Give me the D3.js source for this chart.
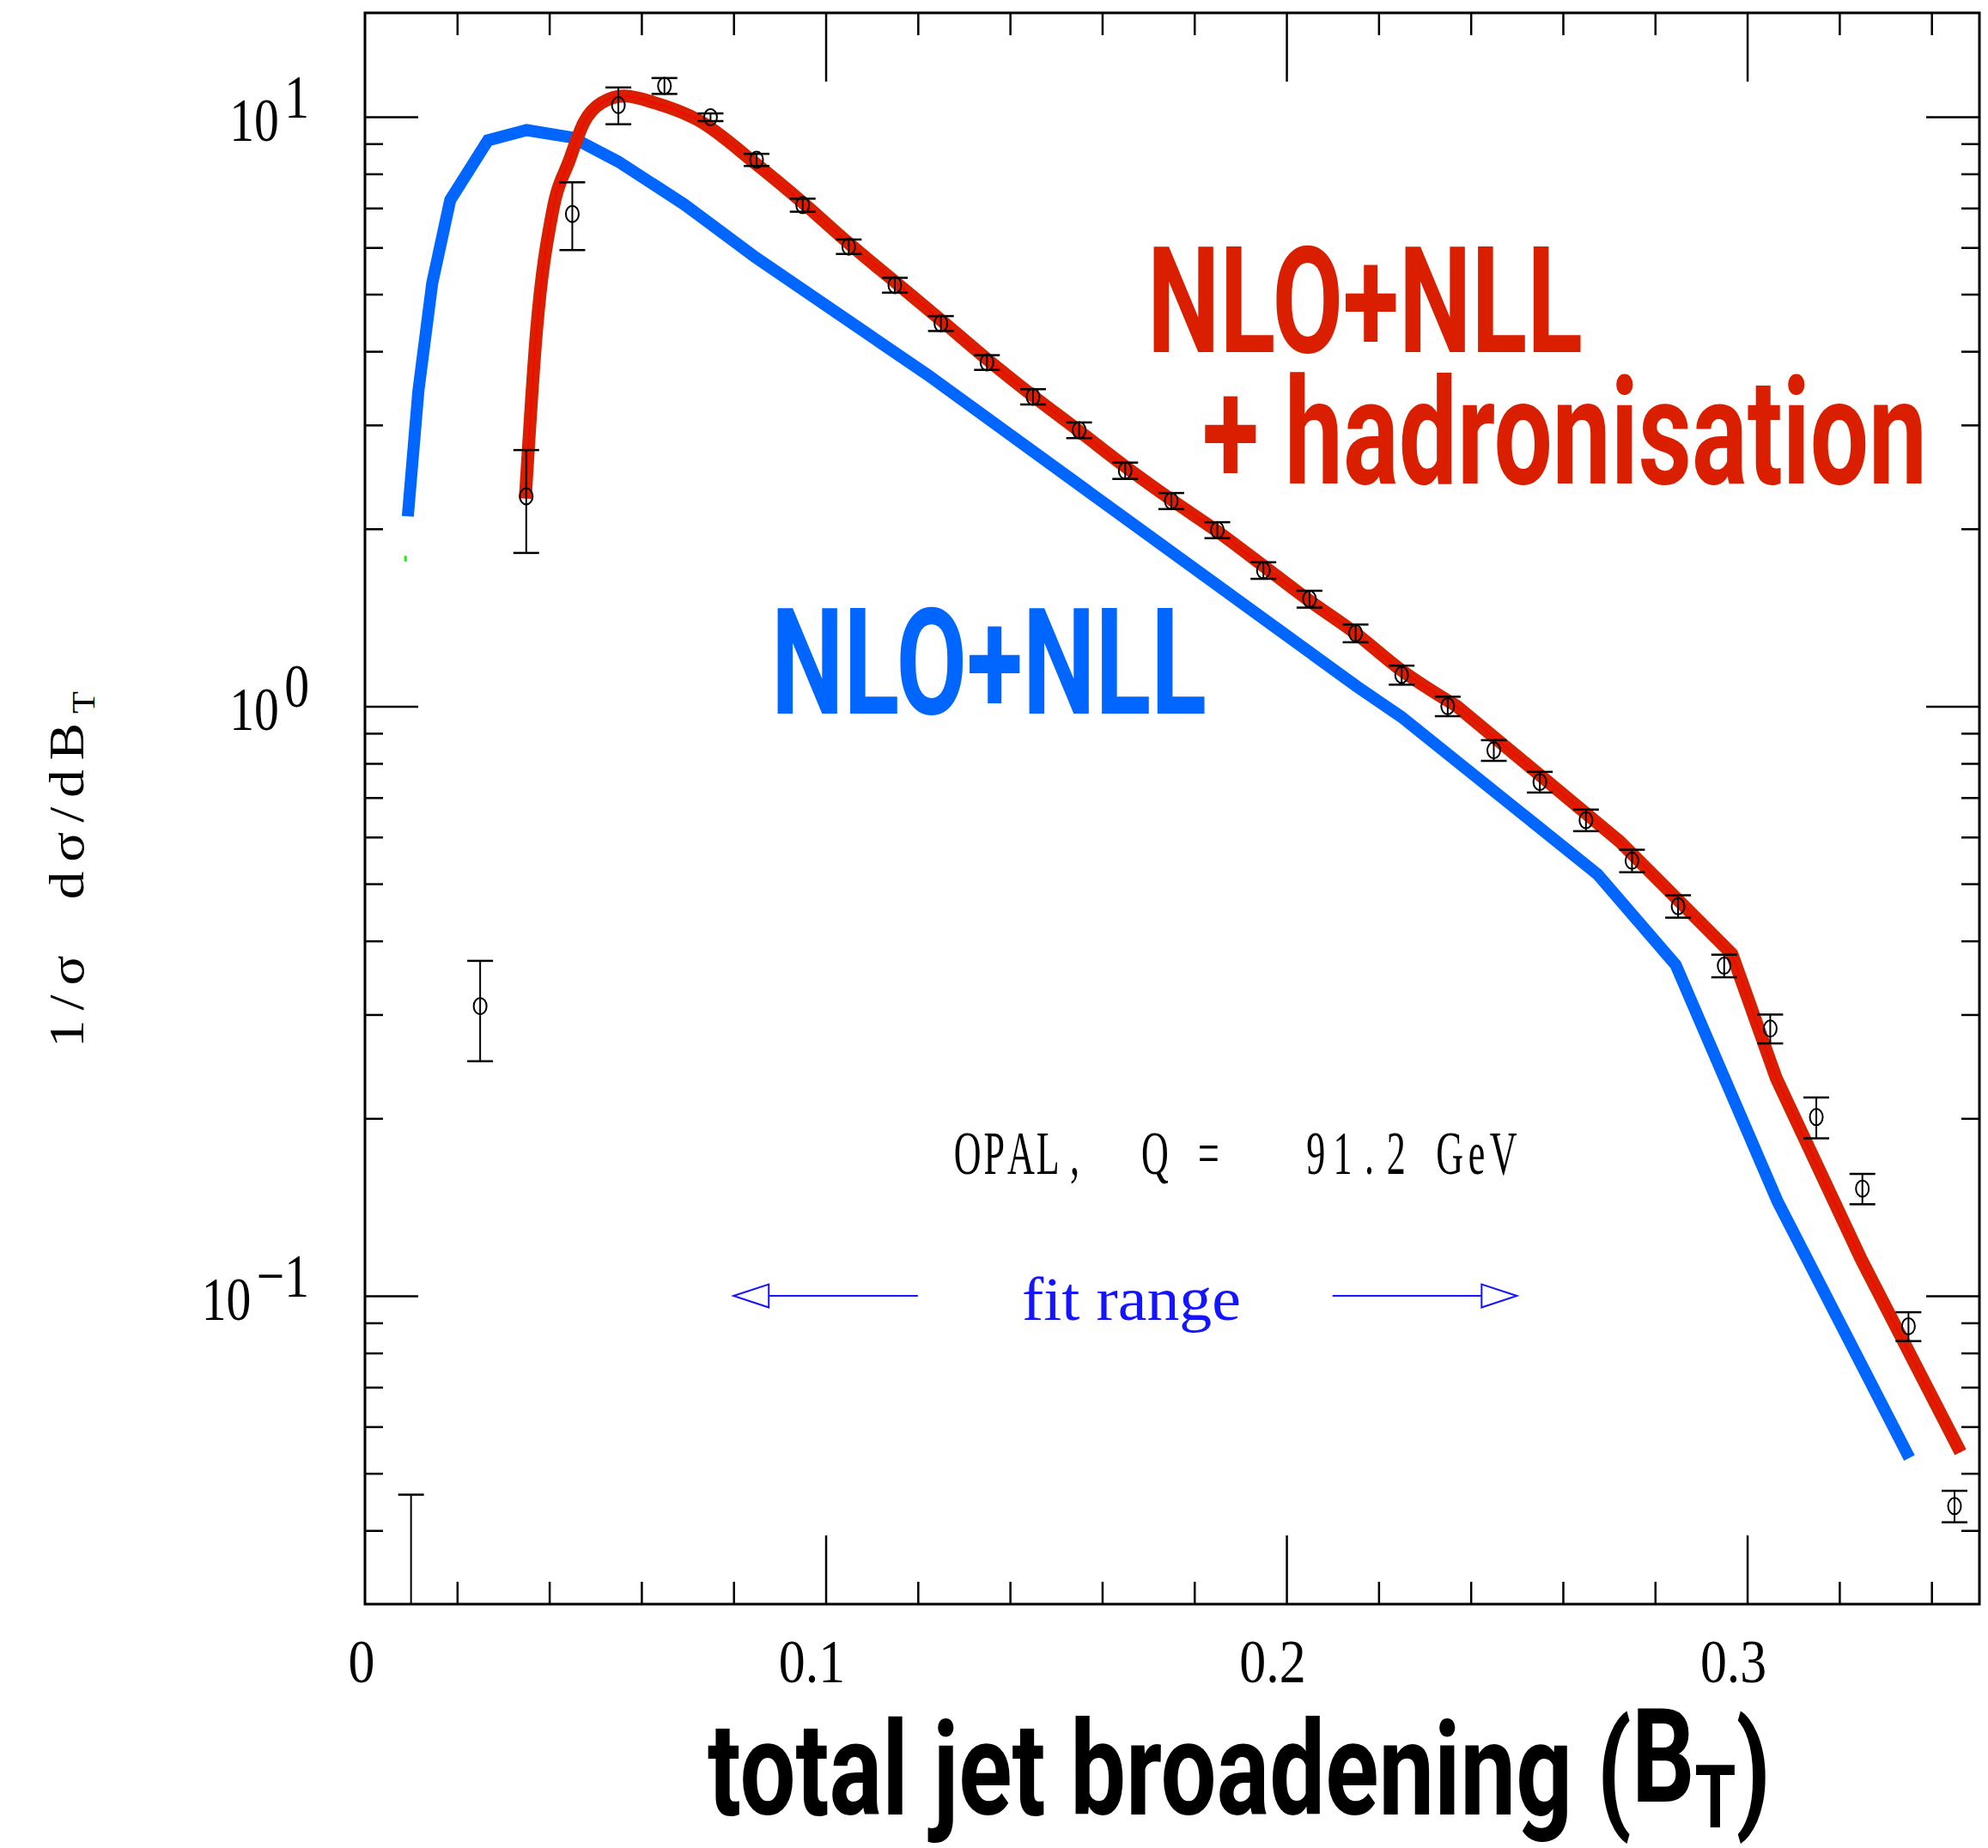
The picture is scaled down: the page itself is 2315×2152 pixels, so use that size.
<!DOCTYPE html>
<html>
<head>
<meta charset="utf-8">
<script src="https://cdn.jsdelivr.net/npm/d3@7"></script>
<style>
body { margin: 0; background: #fff; }
svg { display: block; }
</style>
</head>
<body>
<svg id="chart"></svg>
<script>
// OPAL data, Q = 91.2 GeV (bin centres, 1/sigma dsigma/dBT, error)
var binX = [0.01, 0.025, 0.035, 0.045, 0.055, 0.065, 0.075, 0.085, 0.095, 0.105,
            0.115, 0.125, 0.135, 0.145, 0.155, 0.165, 0.175, 0.185, 0.195, 0.205,
            0.215, 0.225, 0.235, 0.245, 0.255, 0.265, 0.275, 0.285, 0.295, 0.305,
            0.315, 0.325, 0.335, 0.345];
var binY = [0.02, 0.31, 2.27, 6.84, 10.46, 11.28, 9.98, 8.45, 7.08, 6.02,
            5.18, 4.46, 3.83, 3.35, 2.94, 2.51, 2.23, 1.99, 1.70, 1.52,
            1.33, 1.13, 1.00, 0.842, 0.744, 0.641, 0.547, 0.458, 0.363, 0.284,
            0.201, 0.152, 0.0888, 0.0440];
var binErr = [0.026, 0.06, 0.45, 0.9, 0.75, 0.35, 0.15, 0.2, 0.18, 0.17,
              0.15, 0.13, 0.11, 0.1, 0.09, 0.08, 0.07, 0.062, 0.055, 0.05,
              0.046, 0.042, 0.038, 0.034, 0.03, 0.027, 0.024, 0.02, 0.016, 0.016,
              0.016, 0.009, 0.005, 0.0027];

// NLO+NLL (blue)
var nllX = [0.0093, 0.0116, 0.0146, 0.0185, 0.0267, 0.0351, 0.045, 0.055, 0.0693, 0.0848,
            0.1221, 0.2153, 0.2249, 0.2675, 0.2845, 0.3066, 0.3352];
var nllY = [2.1, 3.43, 5.22, 7.22, 9.12, 9.49, 9.22, 8.39, 7.1, 5.77,
            3.65, 1.08, 0.96, 0.519, 0.364, 0.1445, 0.0531];

// NLO+NLL + hadronisation (red)
var hadX = [0.0348, 0.0372, 0.0407, 0.0444, 0.0475, 0.0513, 0.0563, 0.063, 0.0723, 0.085,
            0.095, 0.105, 0.115, 0.125, 0.135, 0.145, 0.155, 0.165, 0.175, 0.185,
            0.195, 0.205, 0.215, 0.225, 0.237, 0.2724, 0.2967, 0.3063, 0.3247, 0.3463];
var hadY = [2.25, 4.3, 6.9, 8.45, 9.77, 10.55, 10.84, 10.55, 9.87, 8.3,
            7.15, 6.1, 5.25, 4.52, 3.88, 3.36, 2.93, 2.55, 2.24, 1.98,
            1.73, 1.51, 1.33, 1.15, 1.0, 0.589, 0.38, 0.234, 0.1155, 0.0543];
// above this B_T the red curve is a plain polyline with sharp corners
var hadSmoothEnd = 0.237;

// stray green stub at the left edge
var greenX = [0.0088, 0.0088];
var greenY = [1.80, 1.76];

var xMajor = [0.1, 0.2, 0.3];
var xMinor = [0.02, 0.04, 0.06, 0.08, 0.12, 0.14, 0.16, 0.18, 0.22, 0.24, 0.26, 0.28, 0.32, 0.34];
var xLabels = [0, 0.1, 0.2, 0.3];
var yMajor = [0.1, 1, 10];
var yExp = ["\u22121", "0", "1"];
var fitRange = [0.08, 0.25];
var fitInner = [0.12, 0.21];

var width = 2315, height = 2152;
var frame = {left: 425, right: 2305, top: 15, bottom: 1868};

var red = "#d91f00", blue = "#0066ff", fitBlue = "#1414ff";
var bigFont = "Roboto, 'DejaVu Sans', sans-serif";
var serif = "'Liberation Serif', 'DejaVu Serif', serif";

var svg = d3.select("#chart")
    .attr("width", width)
    .attr("height", height);

svg.append("rect").attr("width", width).attr("height", height).attr("fill", "#fff");

var x = d3.scaleLinear().domain([0, 0.3504]).range([frame.left, frame.right]);
var y = d3.scaleLog().domain([0.03, 15]).range([frame.bottom, frame.top]);

// squeeze a text sideways so it spans the given width, left edge at left
var fitWidth = function(sel, left, baseline, w, rotate)
{
    var b = sel.node().getBBox();
    var s = w / b.width;
    var tr = "translate(" + left + "," + baseline + ")";
    if (rotate) tr += " rotate(" + rotate + ")";
    tr += " scale(" + s + ",1) translate(" + (-b.x) + ",0)";
    sel.attr("transform", tr);
    return s;
}

svg.append("clipPath").attr("id", "plotclip")
    .append("rect")
    .attr("x", frame.left).attr("y", frame.top)
    .attr("width", frame.right - frame.left)
    .attr("height", frame.bottom - frame.top);

// ---- ticks
var tickAxis = function(axisFn, scale, values, size, tr)
{
    svg.append("g")
        .attr("transform", tr)
        .call(axisFn(scale).tickValues(values).tickSize(size).tickFormat(""))
        .call(function(g) { g.select(".domain").remove(); })
        .selectAll("line")
        .attr("stroke", "#000")
        .attr("stroke-width", 2.5);
}

var yMinor = y.ticks().filter(function(v)
{
    var l = Math.log10(v);
    return Math.abs(l - Math.round(l)) > 1e-6 && v > 0.031;
});

tickAxis(d3.axisBottom, x, xMinor, -26, "translate(0," + frame.bottom + ")");
tickAxis(d3.axisBottom, x, xMajor, -80, "translate(0," + frame.bottom + ")");
tickAxis(d3.axisTop, x, xMinor, -26, "translate(0," + frame.top + ")");
tickAxis(d3.axisTop, x, xMajor, -80, "translate(0," + frame.top + ")");
tickAxis(d3.axisLeft, y, yMinor, -21, "translate(" + frame.left + ",0)");
tickAxis(d3.axisLeft, y, yMajor, -62, "translate(" + frame.left + ",0)");
tickAxis(d3.axisRight, y, yMinor, -21, "translate(" + frame.right + ",0)");
tickAxis(d3.axisRight, y, yMajor, -62, "translate(" + frame.right + ",0)");

svg.append("rect")
    .attr("x", frame.left).attr("y", frame.top)
    .attr("width", frame.right - frame.left)
    .attr("height", frame.bottom - frame.top)
    .attr("fill", "none")
    .attr("stroke", "#000")
    .attr("stroke-width", 3);

// ---- tick labels
xLabels.forEach(function(t)
{
    var off = t === 0 ? -4 : -16;
    svg.append("text")
        .text(t === 0 ? "0" : String(t))
        .attr("font-family", serif)
        .attr("font-size", 72)
        .attr("text-anchor", "middle")
        .attr("transform", "translate(" + (x(t) + off) + ",1959) scale(0.86,1)");
});

var ySqueeze = 0.80;
yMajor.forEach(function(v, i)
{
    var t = svg.append("text")
        .attr("font-family", serif)
        .attr("font-size", 72);
    t.append("tspan").text("10");
    t.append("tspan").attr("dx", 8).attr("dy", -27).text(yExp[i]);
    var b = t.node().getBBox();
    var right = 360;
    t.attr("transform", "translate(" + (right - (b.x + b.width) * ySqueeze) + "," +
        (y(v) + 28) + ") scale(" + ySqueeze + ",1)");
});

// ---- curves
var lineOf = function(xs, ys, curve)
{
    return d3.line()
        .x(function(d) { return x(d[0]); })
        .y(function(d) { return y(d[1]); })
        .curve(curve)(xs.map(function(v, i) { return [v, ys[i]]; }));
}

var plot = svg.append("g").attr("clip-path", "url(#plotclip)");

plot.append("path")
    .attr("d", lineOf(greenX, greenY, d3.curveLinear))
    .attr("fill", "none")
    .attr("stroke", "#00ff00")
    .attr("stroke-width", 3);

plot.append("path")
    .attr("d", lineOf(nllX, nllY, d3.curveLinear))
    .attr("fill", "none")
    .attr("stroke", blue)
    .attr("stroke-width", 14);

// red: smooth over the peak, straight segments in the tail
var split = hadX.indexOf(hadSmoothEnd);
var hadPath = lineOf(hadX.slice(0, split + 1), hadY.slice(0, split + 1), d3.curveMonotoneX) +
    lineOf(hadX.slice(split), hadY.slice(split), d3.curveLinear).replace(/^M/, "L");

plot.append("path")
    .attr("d", hadPath)
    .attr("fill", "none")
    .attr("stroke", red)
    .attr("stroke-width", 15)
    .attr("stroke-linejoin", "round");

plot.append("path")
    .attr("d", hadPath)
    .attr("fill", "none")
    .attr("stroke", "#ff0000")
    .attr("stroke-width", 1.5);

// ---- data points with error bars
var pts = plot.selectAll("g.pt")
    .data(binX)
    .enter()
    .append("g")
    .classed("pt", true);

pts.append("line")
    .attr("x1", function(d) { return x(d); })
    .attr("x2", function(d) { return x(d); })
    .attr("y1", function(d, i) { return y(Math.max(binY[i] - binErr[i], 0.001)); })
    .attr("y2", function(d, i) { return y(binY[i] + binErr[i]); })
    .attr("stroke", "#000")
    .attr("stroke-width", 2);

[1, -1].forEach(function(sgn)
{
    pts.append("line")
        .attr("x1", function(d) { return x(d) - 15; })
        .attr("x2", function(d) { return x(d) + 15; })
        .attr("y1", function(d, i) { return y(Math.max(binY[i] + sgn * binErr[i], 0.001)); })
        .attr("y2", function(d, i) { return y(Math.max(binY[i] + sgn * binErr[i], 0.001)); })
        .attr("stroke", "#000")
        .attr("stroke-width", 2.5);
});

pts.append("ellipse")
    .attr("cx", function(d) { return x(d); })
    .attr("cy", function(d, i) { return y(binY[i]); })
    .attr("rx", 7.5)
    .attr("ry", 9.5)
    .attr("fill", "none")
    .attr("stroke", "#000")
    .attr("stroke-width", 2);

// ---- fit range arrows
var arrowY = y(0.1);
var drawArrow = function(tipX, innerX, dir)
{
    var base = tipX + dir * 41;
    svg.append("line")
        .attr("x1", innerX).attr("x2", base)
        .attr("y1", arrowY).attr("y2", arrowY)
        .attr("stroke", fitBlue).attr("stroke-width", 2);
    svg.append("polygon")
        .attr("points", [[tipX, arrowY], [base, arrowY - 13.5], [base, arrowY + 13.5]].join(" "))
        .attr("fill", "#fff")
        .attr("stroke", fitBlue)
        .attr("stroke-width", 2);
}
drawArrow(x(fitRange[0]), x(fitInner[0]), 1);
drawArrow(x(fitRange[1]), x(fitInner[1]), -1);

var fitText = svg.append("text")
    .text("fit range")
    .attr("font-family", serif)
    .attr("font-size", 72)
    .style("white-space", "pre")
    .attr("fill", fitBlue);
fitWidth(fitText, 1190, 1537, 255);

// ---- OPAL caption, typewriter style: one glyph per fixed cell
var opalStr = "OPAL,  Q =   91.2 GeV";
var cell = 31.2, opalSx = 0.62;
svg.append("text")
    .text(opalStr)
    .attr("font-family", serif)
    .attr("font-size", 71)
    .attr("text-anchor", "middle")
    .style("white-space", "pre")
    .attr("x", opalStr.split("").map(function(c, i) { return ((i + 0.5) * cell / opalSx).toFixed(1); }).join(" "))
    .attr("y", 0)
    .attr("transform", "translate(1111,1367) scale(" + opalSx + ",1)")
    .attr("fill", "#000");

// ---- big labels
var bigLabel = function(str, color, left, baseline, w)
{
    var t = svg.append("text")
        .text(str)
        .attr("font-family", bigFont)
        .attr("font-weight", 700)
        .attr("font-size", 172)
        .style("white-space", "pre")
        .attr("fill", color);
    fitWidth(t, left, baseline, w);
}
bigLabel("NLO+NLL", red, 1336, 410, 507);
bigLabel("+ hadronisation", red, 1400, 563, 844);
bigLabel("NLO+NLL", blue, 898, 831, 507);

var xTitle = svg.append("text")
    .attr("font-family", bigFont)
    .attr("font-weight", 700)
    .attr("font-size", 152)
    .style("white-space", "pre")
    .attr("fill", "#000");
xTitle.append("tspan").text("total jet broadening (");
xTitle.append("tspan").attr("dy", -15).text("B");
xTitle.append("tspan").attr("dy", 30).attr("font-size", 102).text("T");
xTitle.append("tspan").attr("dy", -15).text(")");
fitWidth(xTitle, 824, 2113, 1238);

// ---- y title: glyphs stretched a little along the text,
// remaining length taken up by letter spacing
var yStretch = 1.12;
var yTitle = svg.append("text")
    .attr("font-family", serif)
    .attr("font-size", 58)
    .style("white-space", "pre")
    .attr("fill", "#000");
yTitle.append("tspan").text("1/\u03c3  d\u03c3/dB");
yTitle.append("tspan").attr("dy", 13).attr("font-size", 38).text("T");
var yw = yTitle.node().getBBox().width * yStretch;
var nChars = "1/\u03c3  d\u03c3/dBT".length;
yTitle.attr("letter-spacing", Math.max(0, (426 - yw) / nChars / yStretch).toFixed(2))
    .attr("transform", "translate(97,1220) rotate(-90) scale(" + yStretch + ",1)");
</script>
</body>
</html>
